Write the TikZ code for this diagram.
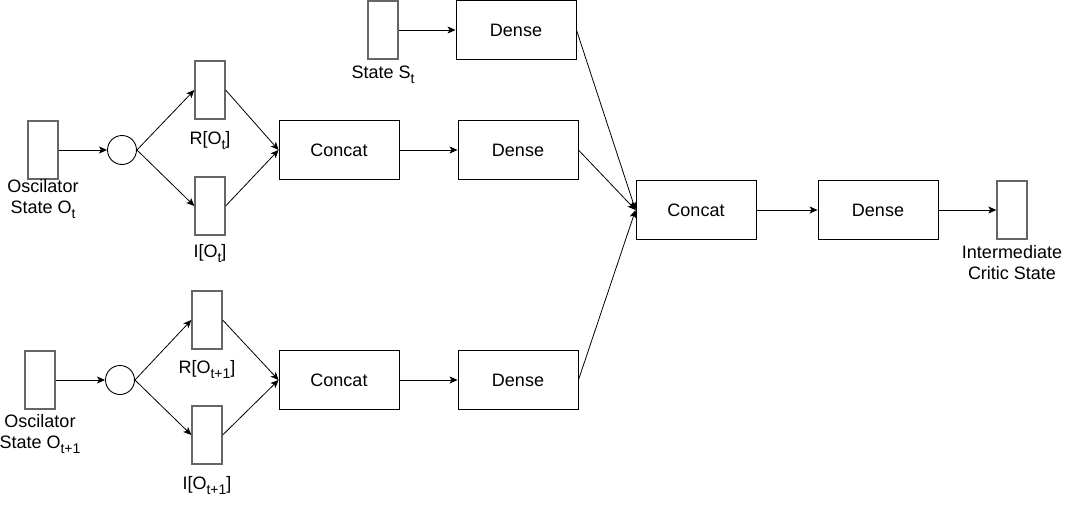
\documentclass[tikz,border=0pt]{standalone}
\usepackage{fontspec}
\setmainfont{Liberation Sans}
\usetikzlibrary{arrows.meta}
\newcommand{\mysub}[1]{\raisebox{-0.28em}{\fontsize{14}{14}\selectfont #1}}
\begin{document}
\begin{tikzpicture}[x=1pt,y=-1pt,
  box/.style={draw=black, line width=0.9pt, minimum width=120pt, minimum height=59pt, inner sep=0pt, font=\fontsize{18}{21}\selectfont},
  vec/.style={draw=black!60, line width=1.3pt, minimum width=30pt, minimum height=58pt, inner sep=0pt},
  circ/.style={draw=black, circle, minimum size=29pt, inner sep=0pt, line width=0.9pt},
  lbl/.style={font=\fontsize{18}{21}\selectfont, align=center, inner sep=0pt},
  arr/.style={-{Stealth[length=8pt,width=7pt,inset=2pt]}, line width=0.8pt}]
\useasboundingbox (0,0) rectangle (1071,506);
% top branch
\node[vec] (s) at (383,30) {};
\node[lbl] (sl) at (383,75) {State S\mysub{t}};
\node[box] (d0) at (516,30) {Dense};
% first oscillator branch
\node[vec] (o1) at (43,150) {};
\node[lbl] (o1l) at (43,199) {Oscilator\\State O\mysub{t}};
\node[circ] (c1) at (122,150) {};
\node[vec] (r1) at (210,90) {};
\node[lbl] (r1l) at (210,141) {R[O\mysub{t}]};
\node[vec] (i1) at (210,206) {};
\node[lbl] (i1l) at (210,254) {I[O\mysub{t}]};
\node[box] (k1) at (339,150) {Concat};
\node[box] (d1) at (518,150) {Dense};
% second oscillator branch
\node[vec] (o2) at (40,380) {};
\node[lbl] (o2l) at (40,434) {Oscilator\\State O\mysub{t+1}};
\node[circ] (c2) at (120,380) {};
\node[vec] (r2) at (207,320) {};
\node[lbl] (r2l) at (207,370) {R[O\mysub{t+1}]};
\node[vec] (i2) at (207,435) {};
\node[lbl] (i2l) at (207,486) {I[O\mysub{t+1}]};
\node[box] (k2) at (339,380) {Concat};
\node[box] (d2) at (518,380) {Dense};
% merge
\node[box] (k) at (696,210) {Concat};
\node[box] (d) at (878,210) {Dense};
\node[vec] (out) at (1012,210) {};
\node[lbl] (outl) at (1012,263) {Intermediate\\Critic State};
% connectors
\draw[arr] (s.east) -- (d0.west);
\draw[arr] (o1.east) -- (c1.west);
\draw[arr] (c1.east) -- (r1.west);
\draw[arr] (c1.east) -- (i1.west);
\draw[arr] (r1.east) -- (k1.west);
\draw[arr] (i1.east) -- (k1.west);
\draw[arr] (k1.east) -- (d1.west);
\draw[arr] (o2.east) -- (c2.west);
\draw[arr] (c2.east) -- (r2.west);
\draw[arr] (c2.east) -- (i2.west);
\draw[arr] (r2.east) -- (k2.west);
\draw[arr] (i2.east) -- (k2.west);
\draw[arr] (k2.east) -- (d2.west);
\draw[arr] (d0.east) -- (k.west);
\draw[arr] (d1.east) -- (k.west);
\draw[arr] (d2.east) -- (k.west);
\draw[arr] (k.east) -- (d.west);
\draw[arr] (d.east) -- (out.west);
\end{tikzpicture}
\end{document}
